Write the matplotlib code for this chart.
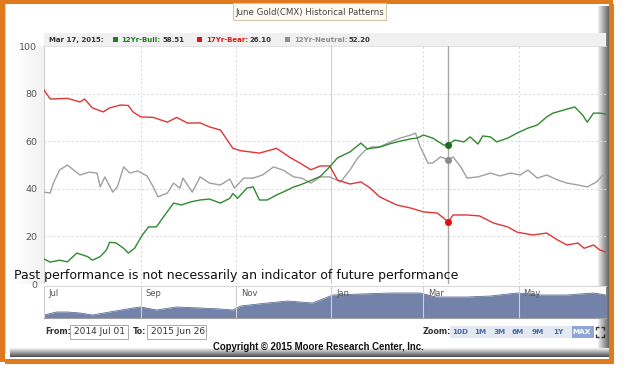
import numpy as np
import pandas as pd
import matplotlib
matplotlib.use("Agg")
import matplotlib.pyplot as plt
from matplotlib.patches import Rectangle

plt.rcParams['font.family'] = ['DejaVu Sans']

# ---- data (days after 2014-07-01, value) ----
start = pd.Timestamp('2014-07-01')
end = pd.Timestamp('2015-06-26')
cursor_day = 259  # Mar 17, 2015

bull_days = [0, 4, 10, 15, 21, 28, 31, 36, 40, 42, 46, 51, 54, 58, 63, 67, 72, 76, 83, 88,
             94, 100, 106, 113, 119, 121, 124, 130, 134, 138, 143, 149, 156, 160, 164, 171,
             177, 183, 188, 196, 203, 207, 215, 222, 228, 235, 239, 243, 249, 256, 259, 263,
             269, 273, 278, 281, 286, 290, 297, 303, 310, 316, 322, 326, 333, 340, 345, 348,
             352, 356, 360]
bull_vals = [10.5, 9.2, 10.0, 9.3, 13.0, 11.5, 10.0, 11.5, 14.3, 17.5, 17.3, 15.0, 13.0, 15.0,
             20.6, 24.0, 24.0, 27.7, 34.0, 33.2, 34.5, 35.3, 35.7, 34.0, 36.0, 38.0, 36.0, 40.3,
             40.8, 35.3, 35.3, 37.4, 39.5, 40.8, 41.6, 43.5, 45.2, 49.2, 53.0, 55.5, 59.2, 56.8,
             57.5, 59.0, 60.0, 61.0, 61.3, 62.6, 61.3, 58.4, 58.51, 60.5, 59.7, 61.8, 58.8, 62.2,
             61.8, 59.7, 61.3, 63.4, 65.5, 66.8, 70.2, 71.8, 73.1, 74.4, 71.0, 68.0, 71.8, 71.8,
             71.4]

bear_days = [0, 4, 15, 23, 26, 31, 38, 42, 49, 54, 57, 62, 70, 79, 85, 92, 100, 106, 113, 121,
             126, 138, 149, 158, 164, 171, 177, 183, 188, 196, 203, 209, 215, 226, 235, 243,
             252, 259, 262, 271, 279, 288, 297, 303, 313, 322, 329, 335, 342, 346, 352, 356, 360]
bear_vals = [81.5, 77.7, 78.0, 76.5, 77.7, 74.0, 72.3, 74.0, 75.2, 75.0, 72.3, 70.2, 70.0, 68.0,
             70.0, 67.6, 67.7, 66.0, 64.7, 57.0, 56.0, 55.0, 57.0, 53.0, 50.8, 48.0, 49.6, 49.6,
             43.7, 42.0, 42.9, 40.3, 36.6, 33.2, 31.9, 30.3, 29.8, 26.10, 29.0, 29.0, 28.6, 25.6,
             24.0, 21.8, 20.6, 21.4, 18.5, 16.4, 17.2, 15.0, 16.4, 14.3, 13.4]

neutral_days = [0, 4, 6, 10, 15, 19, 23, 29, 34, 36, 39, 44, 47, 51, 55, 60, 66, 70, 73, 79, 83,
                87, 89, 95, 100, 106, 113, 119, 122, 128, 134, 140, 147, 153, 160, 165, 171, 177,
                183, 190, 196, 201, 206, 210, 215, 222, 228, 235, 238, 241, 246, 249, 254, 259,
                262, 267, 271, 278, 286, 292, 299, 305, 310, 316, 322, 329, 335, 342, 348, 354,
                358, 360]
neutral_vals = [38.6, 38.2, 42.4, 47.9, 50.0, 47.9, 45.8, 47.0, 46.6, 40.8, 45.0, 38.6, 40.8, 49.2,
                46.6, 47.5, 45.4, 40.8, 36.6, 38.2, 42.4, 40.3, 44.5, 38.6, 45.0, 42.4, 41.6, 44.1,
                40.3, 44.5, 44.5, 45.8, 49.2, 47.9, 45.0, 44.5, 42.4, 45.0, 45.0, 42.9, 47.9, 53.0,
                56.3, 57.6, 57.6, 59.7, 61.3, 62.6, 63.4, 57.6, 50.8, 50.8, 53.4, 52.20, 53.4, 49.2,
                44.5, 45.0, 46.6, 45.4, 46.6, 45.8, 47.9, 44.5, 45.8, 43.7, 42.4, 41.6, 40.8, 42.9,
                45.8, 45.0]

nav_days = [0, 8, 15, 23, 31, 42, 57, 62, 72, 85, 100, 113, 121, 126, 143, 156, 172, 185, 203,
            222, 241, 251, 271, 286, 303, 318, 335, 352, 360]
nav_vals = [3, 6, 6, 5, 3, 6, 10, 11, 8, 11, 10, 9, 8, 12, 15, 17, 15, 23, 24, 25, 25, 21, 21,
            22, 25, 23, 23, 25, 23]

month_labels = ['Jul', 'Sep', 'Nov', 'Jan', 'Mar', 'May']
month_dates = pd.to_datetime(['2014-07-01', '2014-09-01', '2014-11-01', '2015-01-01',
                              '2015-03-01', '2015-05-01'])
y_ticks = [0, 20, 40, 60, 80, 100]
zoom_buttons = ['10D', '1M', '3M', '6M', '9M', '1Y', 'MAX']


def to_dates(days):
    return start + pd.to_timedelta(days, unit='D')


W, H = 624, 374
fig = plt.figure(figsize=(W / 100, H / 100), dpi=100)
fig.patch.set_facecolor('white')


def fbox(x0, y0, x1, y1):
    # pixel box (top-left origin) -> figure rect
    return [x0 / W, 1 - y1 / H, (x1 - x0) / W, (y1 - y0) / H]


# ---- background / frame drawn in pixel coords ----
bg = fig.add_axes([0, 0, 1, 1], zorder=0)
bg.axis('off')

orange = '#e07a1f'
# right shadow
grad = np.linspace(0.93, 0.35, 20).reshape(1, -1)
bg.imshow(np.dstack([grad] * 3), extent=[598, 610, 352, 6], aspect='auto', zorder=1)
# bottom shadow
gradv = np.linspace(0.95, 0.3, 20).reshape(-1, 1)
bg.imshow(np.dstack([gradv] * 3), extent=[10, 610, 357, 348], aspect='auto', zorder=1)
# left light strip
gradh = np.linspace(1.0, 0.95, 20).reshape(1, -1)
bg.imshow(np.dstack([gradh] * 3), extent=[14, 44, 284, 46], aspect='auto', zorder=1)

bg.add_patch(Rectangle((5, 3), 1, 350, fc='#d8d8d8', ec='none', zorder=2))
bg.add_patch(Rectangle((0, 0), 613, 4, fc=orange, ec='none', zorder=3))
bg.add_patch(Rectangle((0, 0), 5, 362, fc=orange, ec='none', zorder=3))
bg.add_patch(Rectangle((609, 4), 5, 360, fc=orange, ec='none', zorder=3))
bg.add_patch(Rectangle((5, 359), 609, 5, fc=orange, ec='none', zorder=3))

# title tab
bg.add_patch(Rectangle((233, 3), 153, 17, fc='#fdfbf1', ec='#cfc7a8', lw=0.8, zorder=4))
bg.text(310, 12, 'June Gold(CMX) Historical Patterns', fontsize=6.2, color='#444444',
        ha='center', va='center', zorder=5)

# legend bar
bg.add_patch(Rectangle((44, 33), 562, 13, fc='#f0f0f0', ec='none', zorder=2))
bg.plot([44, 606], [46, 46], color='#dddddd', lw=0.6, zorder=3)
ly = 40
fs_leg = 5.0
bg.text(49, ly, 'Mar 17, 2015:', fontsize=fs_leg, fontweight='bold', color='#333333', va='center')
items = [(113, '#1e7d1e', '12Yr-Bull:', '58.51', 121, 163),
         (197, '#dd1515', '17Yr-Bear:', '26.10', 206, 250),
         (285, '#8c8c8c', '12Yr-Neutral:', '52.20', 294, 349)]
for sx, c, name, val, nx, vx in items:
    bg.add_patch(Rectangle((sx, 37), 5, 5, fc=c, ec='none', zorder=4))
    bg.text(nx, ly, name, fontsize=fs_leg, fontweight='bold', color=c, va='center')
    bg.text(vx, ly, val, fontsize=fs_leg, fontweight='bold', color='#333333', va='center')

# ---- main chart ----
ax = fig.add_axes(fbox(44, 46, 606, 284), zorder=2)
ax.patch.set_alpha(0)
ax.set_xlim(start, end)
ax.set_ylim(0, 100)
for s in ax.spines.values():
    s.set_visible(False)
ax.set_yticks(y_ticks)
ax.tick_params(axis='y', length=0, pad=5, labelsize=6.8, labelcolor='#555555')
ax.set_xticks([])
for t in y_ticks[1:-1]:
    ax.axhline(t, color='#dcdcdc', lw=0.8, ls=(0, (2, 2)), zorder=1)
for d, lab in zip(month_dates, month_labels):
    if lab == 'Jul' or lab == 'Jan':
        ax.axvline(d, color='#d0d0d0', lw=0.8, zorder=1)
    else:
        ax.axvline(d, color='#dcdcdc', lw=0.8, ls=(0, (2, 2)), zorder=1)

ax.plot(to_dates(neutral_days), neutral_vals, color='#a0a0a0', lw=1.0, zorder=3)
ax.plot(to_dates(bear_days), bear_vals, color='#e03535', lw=1.0, zorder=3)
ax.plot(to_dates(bull_days), bull_vals, color='#2f8a2f', lw=1.0, zorder=4)

cur = to_dates([cursor_day])[0]
ax.axvline(cur, color='#a8a8a8', lw=1.0, zorder=2)
ax.plot([cur], [58.51], 'o', ms=4, color='#1e6b1e', zorder=5)
ax.plot([cur], [26.10], 'o', ms=4, color='#dd1111', zorder=5)
ax.plot([cur], [52.20], 'o', ms=4, color='#8a8a8a', zorder=5)

fig.text(14 / W, 1 - 275 / H, 'Past performance is not necessarily an indicator of future performance',
         fontsize=9.0, color='#111111', va='center', ha='left', zorder=10)

# ---- navigator ----
nav = fig.add_axes(fbox(44, 286, 606, 318), zorder=2)
nav.set_xlim(start, end)
nav.set_ylim(0, 32)
nd = to_dates(nav_days)
nav.fill_between(nd, 0, nav_vals, color='#7282a8', lw=0)
nav.plot(nd, nav_vals, color='#5d6d94', lw=0.6)
for s in ['left', 'right']:
    nav.spines[s].set_visible(False)
nav.spines['top'].set_color('#d8d8d8')
nav.spines['bottom'].set_color('#a0a0a0')
nav.set_xticks([])
nav.set_yticks([])
for d, lab in zip(month_dates, month_labels):
    nav.axvline(d, color='#cfcfcf', lw=0.8, zorder=3)
    nav.text(d + pd.Timedelta(days=3), 29, lab, fontsize=6, color='#555555', va='top', zorder=4)

# ---- controls below ----
bg.text(45, 331, 'From:', fontsize=5.8, fontweight='bold', color='#333333', va='center', zorder=5)
bg.add_patch(Rectangle((70, 325), 58, 14, fc='white', ec='#aaaaaa', lw=0.7, zorder=4))
bg.text(74, 332, '2014 Jul 01', fontsize=6.5, color='#333333', va='center', zorder=5)
bg.text(133, 331, 'To:', fontsize=5.8, fontweight='bold', color='#333333', va='center', zorder=5)
bg.add_patch(Rectangle((147, 325), 59, 14, fc='white', ec='#aaaaaa', lw=0.7, zorder=4))
bg.text(151, 332, '2015 Jun 26', fontsize=6.5, color='#333333', va='center', zorder=5)

bg.text(423, 331, 'Zoom:', fontsize=5.8, fontweight='bold', color='#333333', va='center', zorder=5)
bg.add_patch(Rectangle((450, 326), 122, 12, fc='#e3e8f1', ec='none', zorder=4))
bg.add_patch(Rectangle((572, 326), 22, 12, fc='#8ea6d6', ec='none', zorder=4))
btn_x = [460, 480, 500, 518, 538, 558, 582]
for bx, lab in zip(btn_x, zoom_buttons):
    bg.text(bx, 332, lab, fontsize=5.2, fontweight='bold',
            color='white' if lab == 'MAX' else '#4a6aa8', ha='center', va='center', zorder=5)
# expand icon (four corner arrows)
ic = dict(color='#333333', lw=1.0, zorder=5, solid_capstyle='butt')
bg.plot([596, 596, 599], [330, 327, 327], **ic)
bg.plot([601, 604, 604], [327, 327, 330], **ic)
bg.plot([596, 596, 599], [334, 337, 337], **ic)
bg.plot([601, 604, 604], [337, 337, 334], **ic)

bg.text(318, 347, 'Copyright \u00a9 2015 Moore Research Center, Inc.', fontsize=6.9,
        fontweight='bold', family=['Liberation Sans', 'DejaVu Sans'], color='#111111',
        ha='center', va='center', zorder=5)

bg.set_xlim(0, W)
bg.set_ylim(H, 0)

fig.savefig('out.png', dpi=100)
